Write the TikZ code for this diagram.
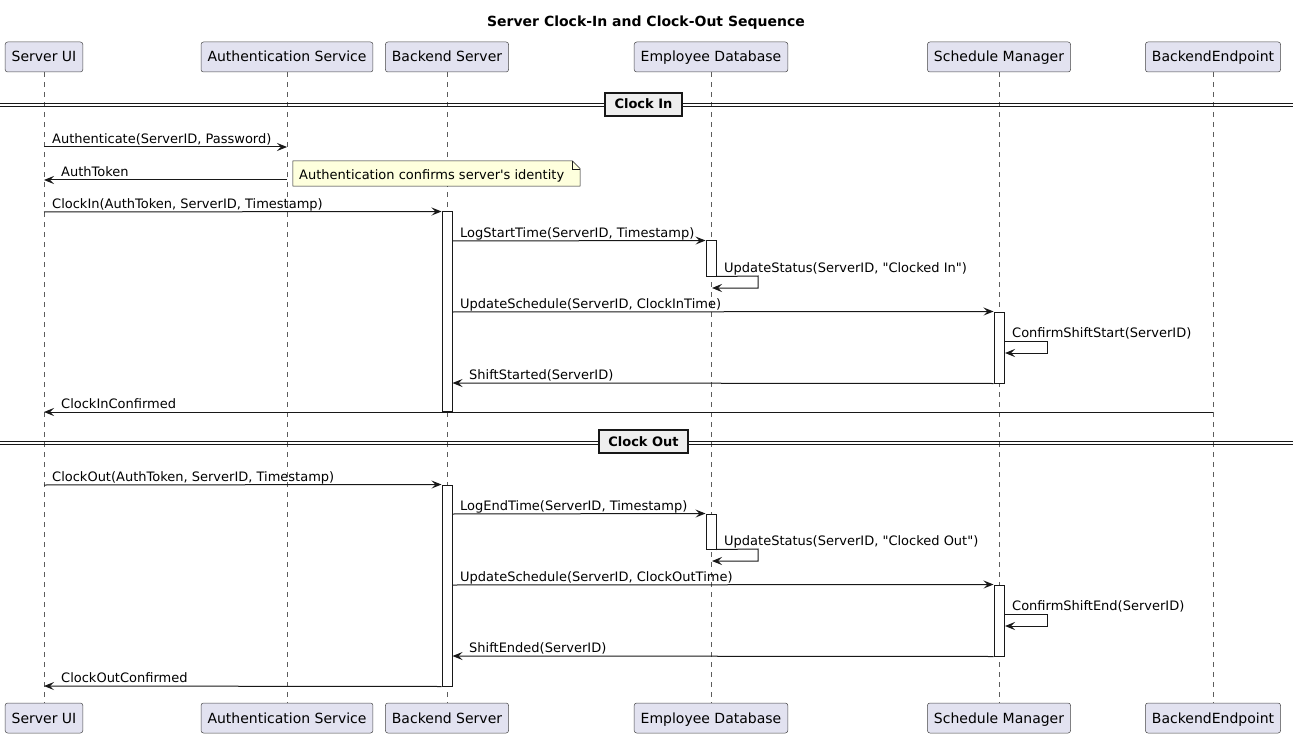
\documentclass[tikz,border=0pt]{standalone}
\usepackage{fontspec}
\setmainfont{DejaVu Sans}[Ligatures=TeXOff]
\usetikzlibrary{arrows.meta}
\definecolor{partfill}{HTML}{E2E2F0}
\definecolor{linec}{HTML}{181818}
\definecolor{notefill}{HTML}{FEFFDD}
\definecolor{divfill}{HTML}{EEEEEE}
\tikzset{
  part/.style={draw=linec!80, line width=0.5pt, fill=partfill, rounded corners=2.5pt,
    minimum height=30pt, inner xsep=6.5pt, inner ysep=0pt, text height=13pt, text depth=3pt,
    font=\fontsize{14}{16}\selectfont, text=black},
  life/.style={draw=linec!70, line width=0.5pt, dash pattern=on 5pt off 5pt},
  act/.style={draw=linec, line width=1pt, fill=white, minimum width=10pt, inner sep=0pt},
  msg/.style={draw=linec, line width=1pt, -{Stealth[length=10pt,width=8pt,inset=4pt]}},
  lbl/.style={anchor=base west, inner sep=0pt, font=\fontsize{13}{15}\selectfont, text=black},
  divbox/.style={draw=linec, line width=1.5pt, fill=divfill, minimum height=23pt, inner xsep=0pt, inner ysep=0pt,
    text height=11pt, text depth=2pt, font=\bfseries\fontsize{13}{15}\selectfont},
  divline/.style={draw=linec, line width=1pt},
}
\begin{document}
\begin{tikzpicture}[x=1pt,y=-1pt]
\useasboundingbox (0,0) rectangle (1293,738);
% title
\node[font=\bfseries\fontsize{14}{16}\selectfont, anchor=base] (title) at (646,27) {Server Clock-In and Clock-Out Sequence};
% participants
\foreach \n/\x/\t in {ui/44/Server UI, auth/287/Authentication Service, bs/447/Backend Server, db/711/Employee Database, sm/999/Schedule Manager, be/1213/BackendEndpoint}{
  \node[part] (\n) at (\x,57) {\t};
  \node[part] (\n b) at (\x,718) {\t};
  \draw[life] (\n.south) -- (\n b.north);
}
% rows
\foreach \r/\y in {r1/147,r2/180,r3/212,r4/241,r5/276,r6/312,r7/341,r8/383,r9/412,
  r10/485,r11/514,r12/549,r13/585,r14/614,r15/656,r16/686}{
  \coordinate (\r) at (0,\y);
}
% dividers
\coordinate (dl1) at (0,104); \coordinate (dr1) at (1293,104);
\coordinate (dl2) at (0,107); \coordinate (dr2) at (1293,107);
\draw[divline] (dl1) -- (dr1); \draw[divline] (dl2) -- (dr2);
\node[divbox, minimum width=77pt] (div1) at (643.5,104.5) {Clock In};
\coordinate (dl3) at (0,441); \coordinate (dr3) at (1293,441);
\coordinate (dl4) at (0,444); \coordinate (dr4) at (1293,444);
\draw[divline] (dl3) -- (dr3); \draw[divline] (dl4) -- (dr4);
\node[divbox, minimum width=89pt] (div2) at (643.5,441.5) {Clock Out};
% activations
\node[act, minimum height=199pt] (a1) at (447,311.5) {};
\node[act, minimum height=35pt] (a2) at (711,258.5) {};
\node[act, minimum height=71pt] (a3) at (999,347.5) {};
\node[act, minimum height=201pt] (a4) at (447,585.5) {};
\node[act, minimum height=35pt] (a5) at (711,531.5) {};
\node[act, minimum height=71pt] (a6) at (999,620.5) {};
% Clock In messages
\draw[msg] (ui |- r1) -- (auth |- r1);
\node[lbl] (l1) at (52,143.5) {Authenticate(ServerID, Password)};
\draw[msg] (auth |- r2) -- (ui |- r2);
\node[lbl] (l2) at (61,176.5) {AuthToken};
\node[minimum width=287pt, minimum height=25pt, inner sep=0pt] (note) at (436.5,173.5) {};
\draw[draw=linec, line width=0.5pt, fill=notefill] (note.south west) -- (note.north west) -- ([xshift=-8pt]note.north east) -- ([yshift=-8pt]note.north east) -- (note.south east) -- cycle;
\draw[draw=linec, line width=0.5pt] ([xshift=-8pt]note.north east) -- ([xshift=-8pt,yshift=-8pt]note.north east) -- ([yshift=-8pt]note.north east);
\node[lbl] (nt) at (299,179.5) {Authentication confirms server's identity};
\draw[msg] (ui |- r3) -- (a1.north west);
\node[lbl] (l3) at (52,208.5) {ClockIn(AuthToken, ServerID, Timestamp)};
\draw[msg] (a1.east |- r4) -- (a2.north west);
\node[lbl] (l4) at (460,237.5) {LogStartTime(ServerID, Timestamp)};
\coordinate (s1a) at (758,276); \coordinate (s1b) at (758,288); \coordinate (s1c) at (712,288);
\draw[msg] (a2.south east) -- (s1a) -- (s1b) -- (s1c);
\node[lbl] (l5) at (724,272.5) {UpdateStatus(ServerID, "Clocked In")};
\draw[msg] (a1.east |- r6) -- (a3.north west);
\node[lbl] (l6) at (460,308.5) {UpdateSchedule(ServerID, ClockInTime)};
\coordinate (s2a) at (1047,341); \coordinate (s2b) at (1047,353); \coordinate (s2c) at (1005,353);
\draw[msg] (a3.east |- r7) -- (s2a) -- (s2b) -- (s2c);
\node[lbl] (l7) at (1012,337.5) {ConfirmShiftStart(ServerID)};
\draw[msg] (a3.south west) -- (a1.east |- r8);
\node[lbl] (l8) at (469,379.5) {ShiftStarted(ServerID)};
\draw[msg] (be |- r9) -- (ui |- r9);
\node[lbl] (l9) at (61,408.5) {ClockInConfirmed};
% Clock Out messages
\draw[msg] (ui |- r10) -- (a4.north west);
\node[lbl] (l10) at (52,481.5) {ClockOut(AuthToken, ServerID, Timestamp)};
\draw[msg] (a4.east |- r11) -- (a5.north west);
\node[lbl] (l11) at (460,510.5) {LogEndTime(ServerID, Timestamp)};
\coordinate (s3a) at (758,549); \coordinate (s3b) at (758,561); \coordinate (s3c) at (712,561);
\draw[msg] (a5.south east) -- (s3a) -- (s3b) -- (s3c);
\node[lbl] (l12) at (724,545.5) {UpdateStatus(ServerID, "Clocked Out")};
\draw[msg] (a4.east |- r13) -- (a6.north west);
\node[lbl] (l13) at (460,581.5) {UpdateSchedule(ServerID, ClockOutTime)};
\coordinate (s4a) at (1047,614); \coordinate (s4b) at (1047,626); \coordinate (s4c) at (1005,626);
\draw[msg] (a6.east |- r14) -- (s4a) -- (s4b) -- (s4c);
\node[lbl] (l14) at (1012,610.5) {ConfirmShiftEnd(ServerID)};
\draw[msg] (a6.south west) -- (a4.east |- r15);
\node[lbl] (l15) at (469,652.5) {ShiftEnded(ServerID)};
\draw[msg] (a4.south west) -- (ui |- r16);
\node[lbl] (l16) at (61,682.5) {ClockOutConfirmed};
\end{tikzpicture}
\end{document}
